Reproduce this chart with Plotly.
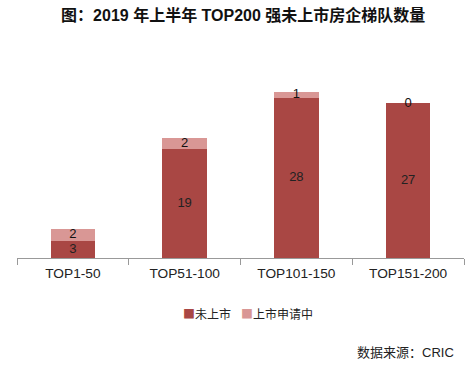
import plotly.graph_objects as go

categories = ["TOP1-50", "TOP51-100", "TOP101-150", "TOP151-200"]
unlisted = [3, 19, 28, 27]
applying = [2, 2, 1, 0]
series_names = ["未上市", "上市申请中"]

dark = "#A94744"
light = "#D99795"
font_fam = "Liberation Sans, Arial, Noto Sans CJK SC, sans-serif"

fig = go.Figure()
fig.add_trace(go.Bar(x=categories, y=unlisted, name=series_names[0],
                     marker=dict(color=dark, line=dict(width=0))))
fig.add_trace(go.Bar(x=categories, y=applying, name=series_names[1],
                     marker=dict(color=light, line=dict(width=0))))

# labels centred in each segment
mid_dark = [u / 2 for u in unlisted]
mid_light = [u + a / 2 for u, a in zip(unlisted, applying)]
fig.add_trace(go.Scatter(x=categories, y=mid_dark, mode="text",
                         text=[str(v) for v in unlisted],
                         textfont=dict(size=13, color="#222222", family=font_fam),
                         showlegend=False, hoverinfo="skip"))
fig.add_trace(go.Scatter(x=categories, y=mid_light, mode="text",
                         text=[str(v) for v in applying],
                         textfont=dict(size=13, color="#111111", family=font_fam),
                         showlegend=False, hoverinfo="skip"))

fig.update_layout(
    width=476, height=366,
    margin=dict(l=17, r=12, t=45, b=108),
    paper_bgcolor="white", plot_bgcolor="white",
    barmode="stack", bargap=0.6,
    font=dict(family=font_fam, size=13, color="#222222"),
    title=dict(text="<b>图：2019 年上半年 TOP200 强未上市房企梯队数量</b>",
               x=0.511, xanchor="center", y=1 - 15 / 366, yanchor="middle",
               font=dict(size=16, color="#111111", family=font_fam)),
    showlegend=False,
)
fig.update_xaxes(type="category", showline=True, linecolor="#999999", linewidth=1,
                 ticks="outside", tickson="boundaries", ticklen=6, tickcolor="#999999",
                 tickfont=dict(size=13.7, color="#222222"), showgrid=False,
                 ticklabelstandoff=3)
fig.update_yaxes(visible=False, range=[0, 213 / 5.73], showgrid=False)

# legend drawn as text entries with small coloured squares
leg_y = (258 - 313) / 213
for name, col, px in zip(series_names, [dark, light], [181, 239]):
    fig.add_annotation(
        text=f"<span style='color:{col}'>■</span>{name}",
        xref="paper", yref="paper", x=(px - 17) / 447, y=leg_y,
        xanchor="left", yanchor="middle", showarrow=False,
        font=dict(size=12, color="#222222", family="Noto Sans CJK SC, sans-serif"))

fig.add_annotation(text="数据来源：CRIC", xref="paper", yref="paper",
                   x=(456 - 17) / 447, y=(258 - 352) / 213, xanchor="right", yanchor="middle",
                   showarrow=False, font=dict(size=13, color="#222222"))

fig.write_html("out.html", config={"displayModeBar": False},
               post_script="document.body.style.margin='0';")
